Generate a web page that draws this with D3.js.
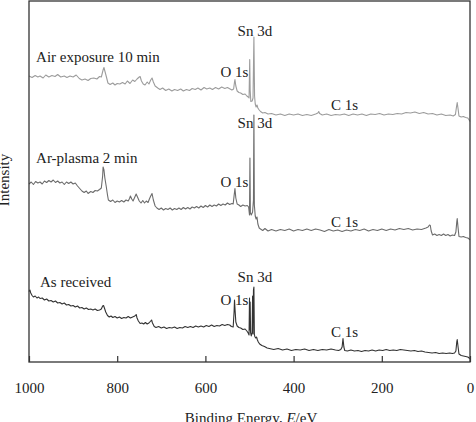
<!DOCTYPE html>
<html>
<head>
<meta charset="utf-8">
<script src="https://cdn.jsdelivr.net/npm/d3@7"></script>
<style>
  html, body { margin: 0; padding: 0; background: #fff; }
  svg { display: block; }
  text { font-family: "Liberation Serif", "Times New Roman", serif; fill: #222; }
</style>
</head>
<body>
<svg width="476" height="422"></svg>
<script>
/**Data**/
// binding energy (eV) and intensity (arb. units)
var airExposure = [
  [1000,286],[993,284.5],[986,286.5],[980,285],[975,286],[968,284],[962,287],[955,285],[948,286.5],[941,285.5],
  [935,287.5],[928,285],[920,286],[914,284.5],[907,286],[900,285],[893,287],[886,283.5],[880,282],[873,283],
  [866,281.5],[860,283.5],[853,284],[846,283],[840,285.5],[836,285],[832,292],[830,294.5],[828,291],[825,286],
  [821,279],[816,277.5],[810,279],[805,277],[800,278.5],[794,278],[788,279.5],[782,278],[777,281],[771,278.5],
  [765,282],[760,280.5],[755,283],[750,285],[748,285.5],[745,281],[741,278],[737,277],[732,280],[728,278],
  [724,282],[721,284],[718,280],[714,276],[708,274],[703,272.5],[697,274],[690,271.5],[683,273],[676,271],
  [670,272.5],[663,271.5],[656,273],[650,271],[643,272.5],[636,271.5],[630,273.5],[623,272.5],[617,274],[610,272],
  [603,274.5],[597,273],[590,274],[584,272.5],[577,274.5],[570,273],[563,275],[556,273.5],[550,274.5],[544,273],
  [540,272],[536,273],[534,280],[533,282.5],[531,276],[528,271],[524,269.5],[520,269],[515,267.5],[510,268],
  [506,266],[503,265],[501,264],[499.5,302.5],[498.5,272],[497,260.5],[494,261],[492,264],[490,325],[488.5,266],
  [487,258],[485,255],[483,257],[481,254],[478,252],[475,250.5],[470,249],[465,249.5],[458,248],[450,248.5],
  [440,247],[430,248],[420,246.5],[410,248],[400,247],[390,248],[380,246.5],[370,247.5],[360,246.5],[350,248],
  [345,249],[343,250.5],[341,248.5],[335,247],[325,248],[315,246.5],[305,247.5],[295,247],[285,248],[275,246.5],
  [265,248],[255,247],[245,248],[235,246.5],[225,248],[215,247.5],[205,248.5],[195,247],[185,248],[175,247.5],
  [165,248.5],[155,248],[145,249.5],[135,249],[125,250],[115,248.5],[105,249.5],[95,248],[85,248.5],[75,247],
  [65,248],[55,246.5],[45,247],[38,246],[33,247.5],[31,254],[29,259.5],[27,253],[25,246],[20,245],
  [15,245.5],[10,244.5],[5,244],[2,242],[0,240.5]
];

var arPlasma = [
  [1000,178],[995,180],[990,177.5],[985,180.5],[980,179],[975,180],[970,178],[965,181],[960,179.5],[955,181.5],
  [950,180],[945,182],[940,179.5],[935,181],[930,179],[925,180],[920,177.5],[915,180],[910,178.5],[905,180],
  [900,178],[895,179],[890,176],[884,173],[880,171],[875,169.5],[870,171],[866,168.5],[860,170.5],[855,169.5],
  [850,171.5],[845,171],[840,172.5],[836,174],[833,186],[832,195],[830,192],[828,184],[825,176],[822,167],
  [820,162],[815,160.5],[810,162],[805,159.5],[800,161],[795,160],[790,161.5],[785,160],[780,162],[775,161],
  [772,163.5],[770,166],[767,163],[764,161],[760,165],[757,168],[754,165],[750,161],[746,159],[742,161.5],
  [738,159],[734,161],[730,159.5],[727,163],[724,166],[721,168.5],[718,162],[714,156],[710,154],[705,152.5],
  [700,154],[695,152],[690,153.5],[685,152.5],[680,154],[675,152],[670,153.5],[665,152.5],[660,154],[655,152.5],
  [650,154.5],[645,153],[640,154.5],[635,153],[630,155],[625,154],[620,155.5],[615,154],[610,156],[605,154.5],
  [600,156.5],[595,155],[590,157],[585,155.5],[580,157],[575,156],[570,158],[565,156.5],[560,158],[555,157],
  [550,159],[545,157.5],[540,158.5],[537,158],[535,166],[533,173.5],[531,164],[528,158],[524,157],[520,155.5],
  [515,157],[510,156],[505,156.5],[502,155],[500,147],[499,204],[498,149],[496,147],[493,150],[491,162],
  [490,247],[489,157],[487,146],[485,143],[483,145],[481,138],[478,134],[475,133],[470,131.5],[465,133.5],
  [458,131],[450,132.5],[440,131],[430,132.5],[420,131.5],[410,133],[400,131],[390,132.5],[380,131.5],[370,133],
  [360,131.5],[350,133],[340,132],[330,130.5],[320,132.5],[310,131],[300,132],[290,130.5],[280,132],[270,131],
  [260,132.5],[250,131.5],[240,133],[230,131],[220,132.5],[210,131.5],[200,133],[190,131.5],[180,133],[170,132],
  [160,133.5],[150,132.5],[140,133.5],[130,132],[120,133],[110,132.5],[100,134],[95,135],[92,137],[90,136.5],
  [88,131],[85,127],[80,128],[75,126.5],[70,127.5],[65,126.5],[60,128],[55,126.5],[50,127.5],[45,126],
  [40,127],[35,126.5],[32,130],[30,140],[29,143.5],[27,134],[25,125.5],[20,125],[15,125.5],[10,124.5],
  [5,124],[2,123],[0,122]
];

var asReceived = [
  [1000,70.5],[998,72],[996,69],[993,66.5],[990,65],[986,66],[982,64],[978,65],[975,63.5],[970,64],
  [965,62],[960,63],[955,61],[950,61.5],[945,60],[940,61],[935,59],[930,59.5],[925,58],[920,59],
  [915,57],[910,57.5],[905,56],[900,56.5],[895,55],[890,56],[885,54],[880,54.5],[875,53],[870,54],
  [865,52.5],[860,53],[855,52],[850,53],[845,51.5],[840,52],[836,53],[833,56],[831,56.5],[829,54],
  [826,50],[822,46.5],[818,45],[814,46],[810,44.5],[805,45.5],[800,44],[795,45],[790,43.5],[785,44.5],
  [780,44],[775,45.5],[770,44],[765,45],[760,46],[757,47.5],[755,44],[752,41],[748,38.5],[744,39],
  [740,38],[736,39.5],[732,38],[728,39],[725,40.5],[722,42],[720,39],[716,35.5],[712,34.5],[706,35.5],
  [700,34],[694,35],[688,33.5],[682,34.5],[676,34],[670,35],[664,33.5],[658,34.5],[652,34],[646,35.5],
  [640,34.5],[634,35.5],[628,34.5],[622,36],[616,35],[610,36],[604,35],[598,36.5],[592,35.5],[586,37],
  [580,35.5],[574,36.5],[568,36],[562,37.5],[556,36.5],[550,37.5],[545,37],[541,35.5],[537,35],[535,50],
  [534,62],[533,54],[531,40],[528,36],[524,34.5],[520,34],[515,32.5],[510,33],[506,31],[503,29],
  [501,27],[500,64],[499.3,32],[498.5,60],[497.5,29],[496,26],[494,30],[493,66],[492,28],[491,72],
  [490,75],[489,28],[488,25.5],[486,24],[484,25],[482,22],[480,20],[477,18],[472,16.5],[466,15.5],
  [460,14],[455,13.5],[445,12.5],[435,13.5],[425,12],[415,13],[405,11.5],[395,12.5],[385,12],[375,13],
  [365,11.5],[355,12.5],[345,11.5],[335,12.5],[325,12],[315,13],[305,12],[298,11.5],[293,12.5],[290,15],
  [288,23.5],[286,15],[284,11.5],[278,11],[270,12],[262,11],[254,11.5],[246,10.5],[238,11.5],[230,11],
  [222,12],[214,11],[206,12],[198,11.5],[190,12.5],[182,11.5],[174,12],[166,11.5],[158,12.5],[150,12],
  [142,11.5],[134,11],[126,11.5],[118,10.5],[110,11],[102,10],[94,9.5],[86,9],[78,9.5],[70,8.5],
  [62,9],[54,8.5],[46,9],[40,8.5],[35,9],[32,11],[30,20],[29,22.5],[27,15],[25,8],
  [20,6.5],[15,6],[10,5.5],[5,5],[2,4],[0,3.5]
];

var seriesNames = ["Air exposure 10 min", "Ar-plasma 2 min", "As received"];
var seriesData = [airExposure, arPlasma, asReceived];
var xTicks = [1000, 800, 600, 400, 200, 0];

// peak labels: [text, eV, intensity] (left/baseline of the text)
var peakLabels = [
  ["Sn 3d", 527, 326.5], ["O 1s", 566, 285], ["C 1s", 315, 252],
  ["Sn 3d", 527, 234], ["O 1s", 566, 175.5], ["C 1s", 315, 135.5],
  ["Sn 3d", 527, 80.5], ["O 1s", 566, 57.5], ["C 1s", 315, 25.5]
];
var namePos = [[984, 300.5], [984, 199.5], [975, 75]];

/**Drawing**/
var svg = d3.select("svg");
var color = ["#9c9c9c", "#6c6c6c", "#333333"];

var x = d3.scaleLinear().domain([1000, 0]).range([29, 470]);
var y = d3.scaleLinear().domain([0, 361]).range([362, 1]);

var line = d3.line()
  .x(function(d) { return x(d[0]); })
  .y(function(d) { return y(d[1]); });

//spectra
svg.append("g")
  .selectAll("path")
  .data(seriesData)
  .enter().append("path")
  .attr("d", line)
  .attr("fill", "none")
  .attr("stroke", function(d, i) { return color[i]; })
  .attr("stroke-width", 1.1)
  .attr("stroke-linejoin", "round");

//frame
svg.append("rect")
  .attr("x", x(1000)).attr("y", y(361))
  .attr("width", x(0) - x(1000)).attr("height", y(0) - y(361))
  .attr("fill", "none").attr("stroke", "#333").attr("stroke-width", 1.3);

//x axis, ticks pointing inward
var xAxis = svg.append("g")
  .attr("transform", "translate(0," + y(0) + ")")
  .call(d3.axisBottom(x).tickValues(xTicks).tickSizeInner(-6).tickSizeOuter(0).tickFormat(d3.format("d")));
xAxis.select(".domain").remove();
xAxis.selectAll(".tick line").attr("stroke", "#333").attr("stroke-width", 1.2);
xAxis.selectAll(".tick text")
  .attr("y", 31).attr("dy", 0)
  .style("font-family", "'Liberation Serif', 'Times New Roman', serif")
  .style("font-size", "15px").attr("fill", "#222");

//axis titles
var xTitle = svg.append("text")
  .attr("x", 251).attr("y", 423)
  .attr("text-anchor", "middle")
  .style("font-size", "15px");
xTitle.append("tspan").text("Binding Energy, ");
xTitle.append("tspan").style("font-style", "italic").text("E");
xTitle.append("tspan").text("/eV");

svg.append("text")
  .attr("transform", "translate(8.5,180) rotate(-90)")
  .attr("text-anchor", "middle")
  .style("font-size", "15px")
  .text("Intensity");

//series names
svg.append("g")
  .selectAll("text")
  .data(seriesNames)
  .enter().append("text")
  .attr("x", function(d, i) { return x(namePos[i][0]); })
  .attr("y", function(d, i) { return y(namePos[i][1]); })
  .style("font-size", "15px")
  .text(function(d) { return d; });

//peak labels
svg.append("g")
  .selectAll("text")
  .data(peakLabels)
  .enter().append("text")
  .attr("x", function(d) { return x(d[1]); })
  .attr("y", function(d) { return y(d[2]); })
  .style("font-size", "15px")
  .text(function(d) { return d[0]; });
</script>
</body>
</html>
